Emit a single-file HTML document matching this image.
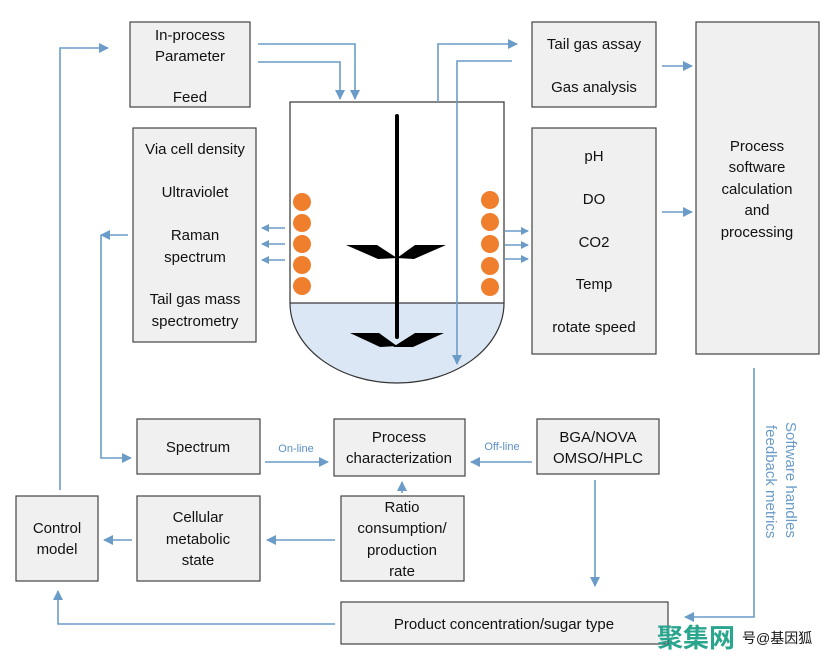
<!DOCTYPE html>
<html><head><meta charset="utf-8"><style>
html,body{margin:0;padding:0;background:#fff;}
svg{display:block;}
text{font-family:"Liberation Sans","Noto Sans CJK SC",sans-serif;font-size:15px;fill:#111;}
.b{fill:#f0f0f0;stroke:#444;stroke-width:1.2;}
.l{stroke:#6b9cc8;stroke-width:1.6;fill:none;}
.blue{fill:#5b8fc4;font-size:11px;}
</style></head><body>
<svg width="835" height="660" viewBox="0 0 835 660">
<defs><marker id="a" markerWidth="8" markerHeight="8" refX="7" refY="4" orient="auto" markerUnits="userSpaceOnUse"><path d="M0,0 L8,4 L0,8 z" fill="#6b9cc8"/></marker>
<marker id="s" markerWidth="10" markerHeight="10" refX="9" refY="5" orient="auto" markerUnits="userSpaceOnUse"><path d="M0,0 L10,5 L0,10 z" fill="#6b9cc8"/></marker></defs>

<!-- boxes -->
<rect class="b" x="130" y="22" width="120" height="85"/>
<text x="190" y="40" text-anchor="middle">In-process</text>
<text x="190" y="61" text-anchor="middle">Parameter</text>
<text x="190" y="102" text-anchor="middle">Feed</text>

<rect class="b" x="133" y="128" width="123" height="214"/>
<text x="195" y="154" text-anchor="middle">Via cell density</text>
<text x="195" y="197" text-anchor="middle">Ultraviolet</text>
<text x="195" y="240" text-anchor="middle">Raman</text>
<text x="195" y="262" text-anchor="middle">spectrum</text>
<text x="195" y="304" text-anchor="middle">Tail gas mass</text>
<text x="195" y="326" text-anchor="middle">spectrometry</text>

<rect class="b" x="532" y="22" width="124" height="85"/>
<text x="594" y="49" text-anchor="middle">Tail gas assay</text>
<text x="594" y="92" text-anchor="middle">Gas analysis</text>

<rect class="b" x="532" y="128" width="124" height="226"/>
<text x="594" y="161" text-anchor="middle">pH</text>
<text x="594" y="204" text-anchor="middle">DO</text>
<text x="594" y="247" text-anchor="middle">CO2</text>
<text x="594" y="289" text-anchor="middle">Temp</text>
<text x="594" y="332" text-anchor="middle">rotate speed</text>

<rect class="b" x="696" y="22" width="123" height="332"/>
<text x="757" y="151" text-anchor="middle">Process</text>
<text x="757" y="172" text-anchor="middle">software</text>
<text x="757" y="194" text-anchor="middle">calculation</text>
<text x="757" y="215" text-anchor="middle">and</text>
<text x="757" y="237" text-anchor="middle">processing</text>

<rect class="b" x="137" y="419" width="123" height="55"/>
<text x="198" y="452" text-anchor="middle">Spectrum</text>
<rect class="b" x="334" y="419" width="131" height="57"/>
<text x="399" y="442" text-anchor="middle">Process</text>
<text x="399" y="463" text-anchor="middle">characterization</text>
<rect class="b" x="537" y="419" width="122" height="55"/>
<text x="598" y="442" text-anchor="middle">BGA/NOVA</text>
<text x="598" y="463" text-anchor="middle">OMSO/HPLC</text>

<rect class="b" x="16" y="496" width="82" height="85"/>
<text x="57" y="533" text-anchor="middle">Control</text>
<text x="57" y="554" text-anchor="middle">model</text>
<rect class="b" x="137" y="496" width="123" height="85"/>
<text x="198" y="522" text-anchor="middle">Cellular</text>
<text x="198" y="544" text-anchor="middle">metabolic</text>
<text x="198" y="565" text-anchor="middle">state</text>
<rect class="b" x="341" y="496" width="123" height="85"/>
<text x="402" y="512" text-anchor="middle">Ratio</text>
<text x="402" y="533" text-anchor="middle">consumption/</text>
<text x="402" y="555" text-anchor="middle">production</text>
<text x="402" y="576" text-anchor="middle">rate</text>
<rect class="b" x="341" y="602" width="327" height="42"/>
<text x="504" y="629" text-anchor="middle">Product concentration/sugar type</text>

<!-- reactor -->
<path d="M290,303 L504,303 A107,80 0 0 1 290,303 z" fill="#dbe7f4" stroke="none"/>
<rect x="290" y="102" width="214" height="201" fill="#fff" stroke="#333" stroke-width="1.2"/>
<path d="M290,303 A107,80 0 0 0 504,303" fill="none" stroke="#333" stroke-width="1.2"/>
<line x1="397" y1="116" x2="397" y2="337" stroke="#000" stroke-width="4" stroke-linecap="round"/>
<polygon points="346,245 377,245 397,258 378,259" fill="#000"/>
<polygon points="446,245 415,245 397,258 414,259" fill="#000"/>
<polygon points="350,333 379,333 397,346 380,347" fill="#000"/>
<polygon points="444,333 415,333 393,347 413,347" fill="#000"/>
<g fill="#ef7f2d">
<circle cx="302" cy="202" r="9"/><circle cx="302" cy="223" r="9"/><circle cx="302" cy="244" r="9"/><circle cx="302" cy="265" r="9"/><circle cx="302" cy="286" r="9"/>
<circle cx="490" cy="200" r="9"/><circle cx="490" cy="222" r="9"/><circle cx="490" cy="244" r="9"/><circle cx="490" cy="266" r="9"/><circle cx="490" cy="287" r="9"/>
</g>

<!-- connectors -->
<g class="l">
<path d="M285,228 L262,228" marker-end="url(#a)"/>
<path d="M285,244 L262,244" marker-end="url(#a)"/>
<path d="M285,260 L262,260" marker-end="url(#a)"/>
<path d="M505,231 L528,231" marker-end="url(#a)"/>
<path d="M505,245 L528,245" marker-end="url(#a)"/>
<path d="M505,259 L528,259" marker-end="url(#a)"/>
<path d="M258,44 L355,44 L355,99" marker-end="url(#s)"/>
<path d="M258,62 L340,62 L340,99" marker-end="url(#s)"/>
<path d="M438,102 L438,44 L517,44" marker-end="url(#s)"/>
<path d="M512,61 L457,61 L457,364" marker-end="url(#s)"/>
<path d="M662,66 L692,66" marker-end="url(#s)"/>
<path d="M662,212 L692,212" marker-end="url(#s)"/>
<path d="M128,235 L101,235" marker-end="url(#s)"/>
<path d="M101,235 L101,458 L131,458" marker-end="url(#s)"/>
<path d="M60,490 L60,48 L108,48" marker-end="url(#s)"/>
<path d="M265,462 L328,462" marker-end="url(#s)"/>
<path d="M532,462 L471,462" marker-end="url(#s)"/>
<path d="M402,493 L402,482" marker-end="url(#s)"/>
<path d="M335,540 L267,540" marker-end="url(#s)"/>
<path d="M132,540 L104,540" marker-end="url(#s)"/>
<path d="M595,480 L595,586" marker-end="url(#s)"/>
<path d="M335,624 L58,624 L58,591" marker-end="url(#s)"/>
<path d="M754,368 L754,617 L685,617" marker-end="url(#s)"/>
</g>
<text class="blue" x="296" y="452" text-anchor="middle">On-line</text>
<text class="blue" x="502" y="450" text-anchor="middle">Off-line</text>
<text transform="translate(786,422) rotate(90)" style="fill:#6b9cc8;font-size:15px;">Software handles</text>
<text transform="translate(766,425) rotate(90)" style="fill:#6b9cc8;font-size:15px;">feedback metrics</text>
<text x="657" y="647" style="fill:#2aa58e;font-size:26px;font-weight:bold;">聚集网</text>
<text x="742" y="643" style="font-size:14px;">号@基因狐</text>
</svg>
</body></html>
